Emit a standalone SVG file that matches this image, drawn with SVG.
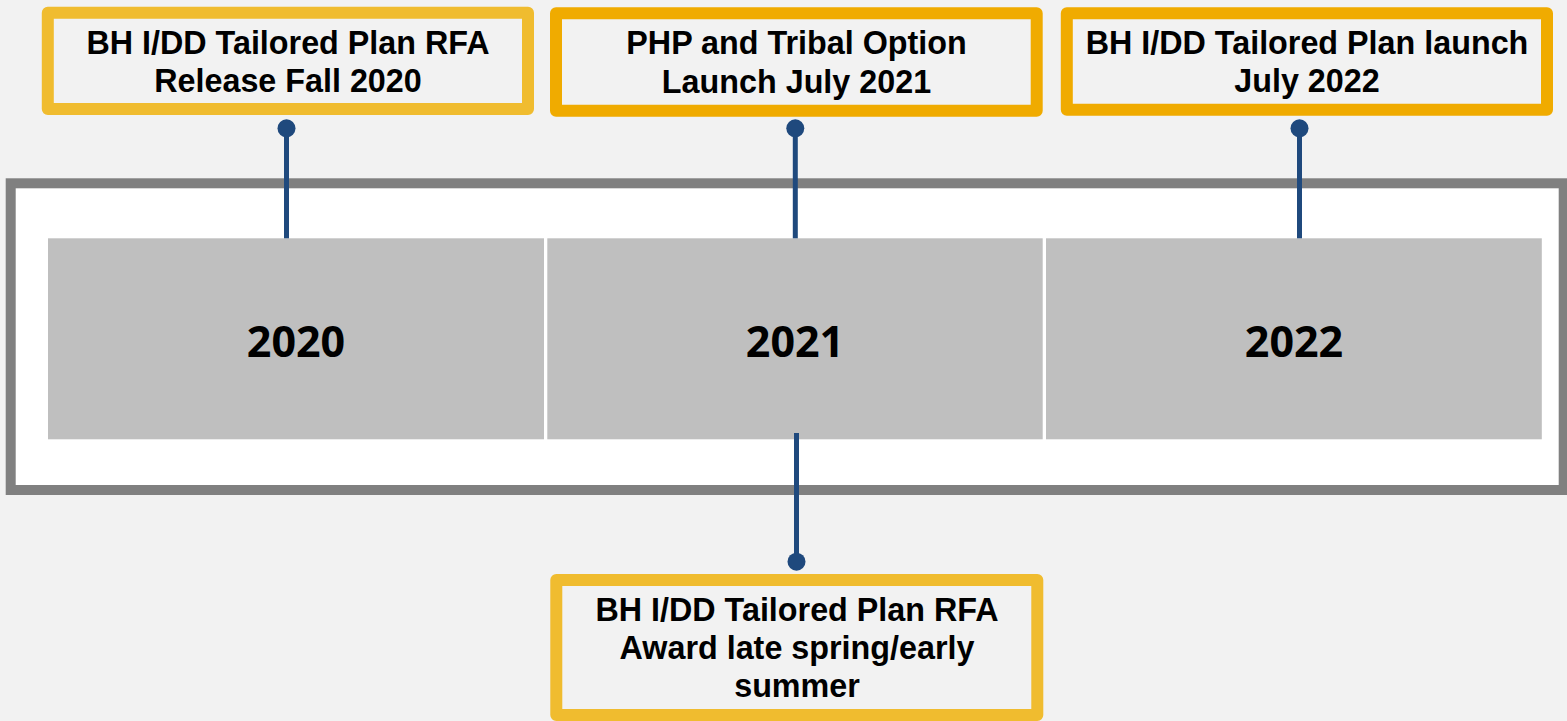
<svg xmlns="http://www.w3.org/2000/svg" width="1567" height="721" viewBox="0 0 1567 721">
  <style>
    .milestone { fill: #F2F2F2; stroke-width: 12; stroke-linejoin: round; }
    .light { stroke: #F0BC2F; }
    .dark { stroke: #F0AB00; }
    .mtext { font-family: "Liberation Sans", Arial, sans-serif; font-weight: bold; font-size: 32.3px; fill: #000; text-anchor: middle; }
    .year { fill: #BFBFBF; }
    .ytext { font-family: "Open Sans", "Liberation Sans", sans-serif; font-weight: bold; font-size: 43px; fill: #000; text-anchor: middle; }
    .conn { stroke: #1F497D; stroke-width: 5; fill: none; }
    .dot { fill: #1F497D; }
  </style>
  <rect x="0" y="0" width="1567" height="721" fill="#F2F2F2"/>
  <g id="timeline-frame">
    <rect x="10.7" y="183.3" width="1553" height="306.7" fill="#FFFFFF" stroke="#808080" stroke-width="10"/>
  </g>
  <g id="year-2020">
    <rect class="year" x="48" y="238.3" width="496" height="201"/>
    <text class="ytext" x="296" y="356.5">2020</text>
  </g>
  <g id="year-2021">
    <rect class="year" x="547.3" y="238.3" width="495.4" height="201"/>
    <text class="ytext" x="795" y="356.5">2021</text>
  </g>
  <g id="year-2022">
    <rect class="year" x="1046" y="238.3" width="495.8" height="201"/>
    <text class="ytext" x="1294" y="356.5">2022</text>
  </g>
  <g id="connectors">
    <line class="conn" x1="286.5" y1="128.3" x2="286.5" y2="238.3"/>
    <circle class="dot" cx="286.5" cy="128.3" r="9"/>
    <line class="conn" x1="795.3" y1="128.3" x2="795.3" y2="238.3"/>
    <circle class="dot" cx="795.3" cy="128.3" r="9"/>
    <line class="conn" x1="1299.5" y1="128.3" x2="1299.5" y2="238.3"/>
    <circle class="dot" cx="1299.5" cy="128.3" r="9"/>
    <line class="conn" x1="796.5" y1="433" x2="796.5" y2="561.7"/>
    <circle class="dot" cx="796.5" cy="561.7" r="9"/>
  </g>
  <g id="rfa-release">
    <rect class="milestone light" x="47.8" y="12.7" width="480.2" height="96.3"/>
    <text class="mtext" x="288" y="53.5">BH I/DD Tailored Plan RFA</text>
    <text class="mtext" x="288" y="92">Release Fall 2020</text>
  </g>
  <g id="php-launch">
    <rect class="milestone dark" x="556" y="13.3" width="480.7" height="97.4"/>
    <text class="mtext" x="796.5" y="54">PHP and Tribal Option</text>
    <text class="mtext" x="796.5" y="92.5">Launch July 2021</text>
  </g>
  <g id="tp-launch">
    <rect class="milestone dark" x="1066.8" y="13.3" width="480.2" height="96.4"/>
    <text class="mtext" x="1307" y="53.5">BH I/DD Tailored Plan launch</text>
    <text class="mtext" x="1307" y="92">July 2022</text>
  </g>
  <g id="rfa-award">
    <rect class="milestone light" x="556.3" y="580" width="481" height="135"/>
    <text class="mtext" x="797" y="621">BH I/DD Tailored Plan RFA</text>
    <text class="mtext" x="797" y="659">Award late spring/early</text>
    <text class="mtext" x="797" y="697">summer</text>
  </g>
</svg>
